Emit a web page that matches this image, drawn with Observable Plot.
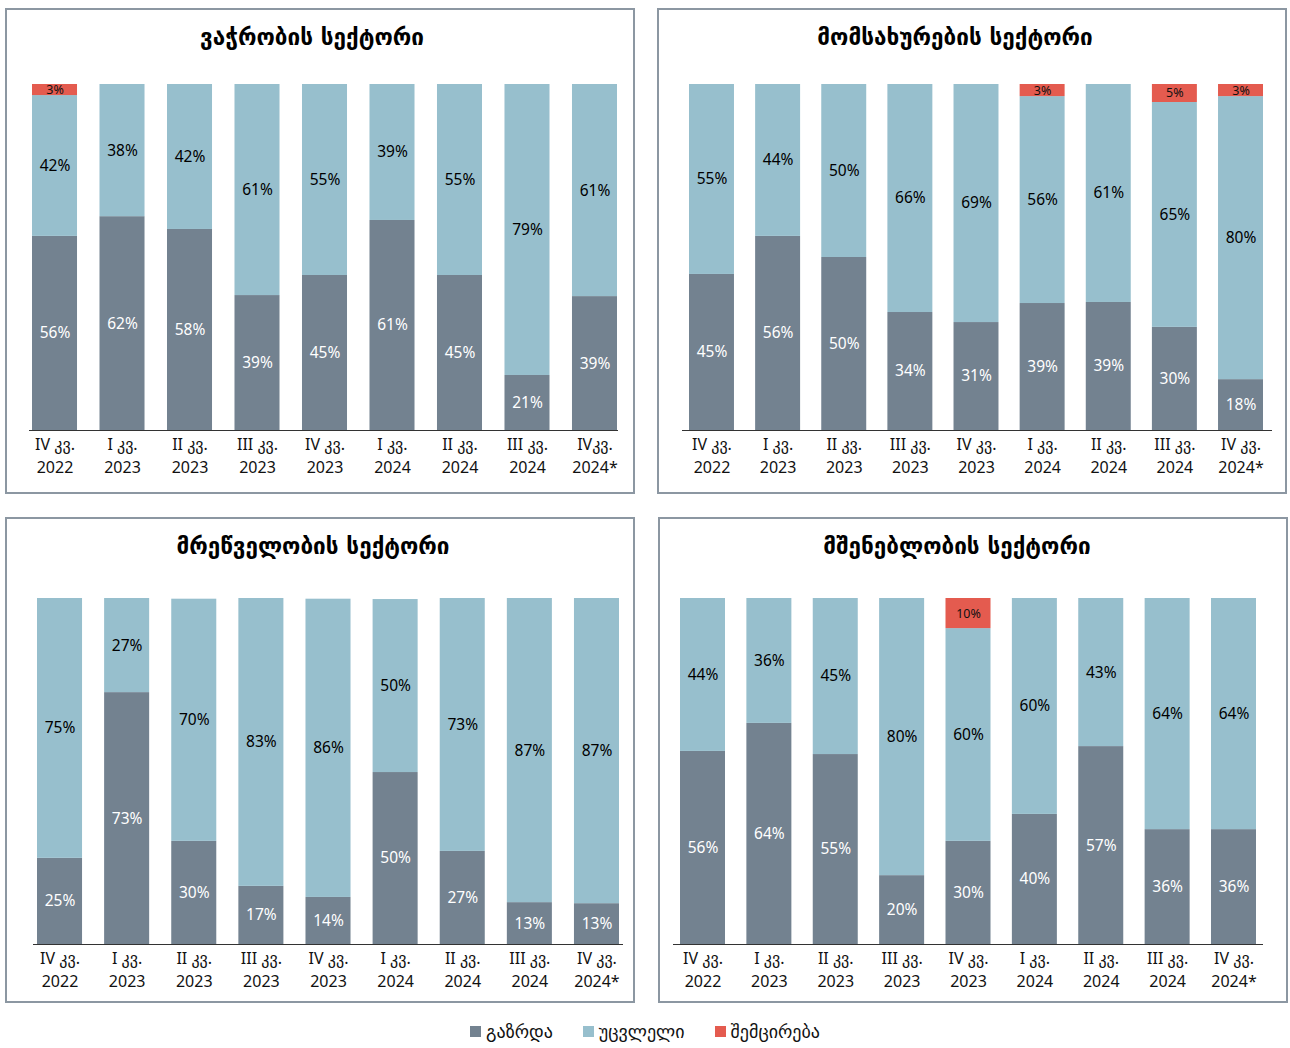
<!DOCTYPE html>
<html>
<head>
<meta charset="utf-8">
<script src="https://cdn.jsdelivr.net/npm/d3@7"></script>
<script src="https://cdn.jsdelivr.net/npm/@observablehq/plot@0.6"></script>
<style>
  html, body { margin: 0; padding: 0; background: #fff; }
  #root { position: relative; width: 1290px; height: 1048px; font-family: "Noto Sans", "DejaVu Sans", sans-serif; }
  .panel { position: absolute; box-sizing: border-box; border: 2px solid #8c97a2; background: #fff; }
  .title { position: absolute; text-align: center; font-family: "DejaVu Sans", sans-serif; font-weight: bold; font-size: 22.5px; color: #000; }
  .chart { position: absolute; }
  .legend { position: absolute; left: 0; width: 1290px; top: 1021px; display: flex; justify-content: center; gap: 30px; font-family: "DejaVu Sans", sans-serif; font-size: 18px; color: #111; }
  .legend .item { display: flex; align-items: center; gap: 5px; }
  .legend .sw { width: 11px; height: 11px; display: inline-block; }
</style>
</head>
<body>
<div id="root"></div>
<script>
// ---------- Data ----------
const categories = ["გაზრდა", "უცვლელი", "შემცირება"];
const categoryColors = ["#738290", "#97bfcd", "#e45b4f"];

const quarterLabels = ["IV კვ.\n2022", "I კვ.\n2023", "II კვ.\n2023", "III კვ.\n2023", "IV კვ.\n2023", "I კვ.\n2024", "II კვ.\n2024", "III კვ.\n2024", "IV კვ.\n2024*"];
const tradeQuarterLabels = ["IV კვ.\n2022", "I კვ.\n2023", "II კვ.\n2023", "III კვ.\n2023", "IV კვ.\n2023", "I კვ.\n2024", "II კვ.\n2024", "III კვ.\n2024", "IVკვ.\n2024*"];

const sectorTitles = ["ვაჭრობის სექტორი", "მომსახურების სექტორი", "მრეწველობის სექტორი", "მშენებლობის სექტორი"];

// Trade (bar heights, labels as printed)
const tradeIncrease = [56.1, 61.8, 58.1, 39.0, 44.8, 60.7, 44.8, 15.9, 38.7];
const tradeUnchanged = [40.7, 38.2, 41.9, 61.0, 55.2, 39.3, 55.2, 84.1, 61.3];
const tradeDecrease = [3.2, 0, 0, 0, 0, 0, 0, 0, 0];
const tradeIncreaseLabels = [56, 62, 58, 39, 45, 61, 45, 21, 39];
const tradeUnchangedLabels = [42, 38, 42, 61, 55, 39, 55, 79, 61];
const tradeDecreaseLabels = [3, null, null, null, null, null, null, null, null];

// Services
const servicesIncrease = [45.1, 56.1, 50.0, 34.1, 31.2, 36.7, 37.0, 29.8, 14.7];
const servicesUnchanged = [54.9, 43.9, 50.0, 65.9, 68.8, 59.8, 63.0, 65.0, 81.8];
const servicesDecrease = [0, 0, 0, 0, 0, 3.5, 0, 5.2, 3.5];
const servicesIncreaseLabels = [45, 56, 50, 34, 31, 39, 39, 30, 18];
const servicesUnchangedLabels = [55, 44, 50, 66, 69, 56, 61, 65, 80];
const servicesDecreaseLabels = [null, null, null, null, null, 3, null, 5, 3];

// Industry
const industryIncrease = [24.9, 72.8, 29.8, 16.8, 13.6, 49.7, 26.9, 12.1, 11.8];
const industryUnchanged = [75.1, 27.2, 70.0, 83.2, 86.2, 50.0, 73.1, 87.9, 88.2];
const industryDecrease = [0, 0, 0, 0, 0, 0, 0, 0, 0];
const industryIncreaseLabels = [25, 73, 30, 17, 14, 50, 27, 13, 13];
const industryUnchangedLabels = [75, 27, 70, 83, 86, 50, 73, 87, 87];
const industryDecreaseLabels = [null, null, null, null, null, null, null, null, null];

// Construction
const constructionIncrease = [55.8, 63.9, 54.9, 19.9, 29.8, 37.6, 57.2, 33.2, 33.2];
const constructionUnchanged = [44.2, 36.1, 45.1, 80.1, 61.5, 62.4, 42.8, 66.8, 66.8];
const constructionDecrease = [0, 0, 0, 0, 8.7, 0, 0, 0, 0];
const constructionIncreaseLabels = [56, 64, 55, 20, 30, 40, 57, 36, 36];
const constructionUnchangedLabels = [44, 36, 45, 80, 60, 60, 43, 64, 64];
const constructionDecreaseLabels = [null, null, null, null, 10, null, null, null, null];

// ---------- Layout (positions only) ----------
const panels = [
  {left: 5, top: 8, svgTop: 68, mt: 16, mb: 64, ml: 24, mr: 17, range: [27, 612], p: 0.333, titleShift: -8, q: tradeQuarterLabels,
   inc: tradeIncrease, unc: tradeUnchanged, dec: tradeDecrease, incL: tradeIncreaseLabels, uncL: tradeUnchangedLabels, decL: tradeDecreaseLabels},
  {left: 657, top: 8, svgTop: 68, mt: 16, mb: 64, ml: 25, mr: 15, range: [32, 606], p: 0.32, titleShift: -17, q: quarterLabels,
   inc: servicesIncrease, unc: servicesUnchanged, dec: servicesDecrease, incL: servicesIncreaseLabels, uncL: servicesUnchangedLabels, decL: servicesDecreaseLabels},
  {left: 5, top: 517, svgTop: 577, mt: 21, mb: 59, ml: 28, mr: 12, range: [32, 614], p: 0.329, titleShift: -7, q: quarterLabels,
   inc: industryIncrease, unc: industryUnchanged, dec: industryDecrease, incL: industryIncreaseLabels, uncL: industryUnchangedLabels, decL: industryDecreaseLabels},
  {left: 658, top: 517, svgTop: 577, mt: 21, mb: 59, ml: 15, mr: 25, range: [22, 598], p: 0.322, titleShift: -16, q: quarterLabels,
   inc: constructionIncrease, unc: constructionUnchanged, dec: constructionDecrease, incL: constructionIncreaseLabels, uncL: constructionUnchangedLabels, decL: constructionDecreaseLabels}
];

const root = document.getElementById("root");

panels.forEach((P, idx) => {
  const box = document.createElement("div");
  box.className = "panel";
  box.style.left = P.left + "px";
  box.style.top = P.top + "px";
  box.style.width = "630px";
  box.style.height = "486px";
  root.appendChild(box);

  const t = document.createElement("div");
  t.className = "title";
  t.style.left = (P.left + P.titleShift) + "px";
  t.style.width = "630px";
  t.style.top = (P.top + 16) + "px";
  t.textContent = sectorTitles[idx];
  root.appendChild(t);

  const rows = [];
  P.q.forEach((q, i) => {
    rows.push({q, cat: categories[0], value: P.inc[i], label: P.incL[i]});
    rows.push({q, cat: categories[1], value: P.unc[i], label: P.uncL[i]});
    rows.push({q, cat: categories[2], value: P.dec[i], label: P.decL[i]});
  });
  const fmt = v => v == null ? null : v + "%";

  const chart = Plot.plot({
    width: 630,
    height: 426,
    marginTop: P.mt,
    marginBottom: P.mb,
    marginLeft: P.ml,
    marginRight: P.mr,
    style: {fontFamily: "'Noto Sans', 'DejaVu Sans', sans-serif", background: "transparent"},
    x: {domain: P.q, range: P.range, paddingInner: P.p, paddingOuter: 0, round: false, axis: null},
    y: {domain: [0, 100], axis: null},
    color: {domain: categories, range: categoryColors},
    marks: [
      Plot.barY(rows, {x: "q", y: "value", fill: "cat", z: "cat", order: categories}),
      Plot.text(rows, Plot.stackY({x: "q", y: "value", z: "cat", order: categories,
        text: d => d.cat === categories[0] ? fmt(d.label) : null, fill: "white", fontSize: 15.5})),
      Plot.text(rows, Plot.stackY({x: "q", y: "value", z: "cat", order: categories,
        text: d => d.cat === categories[1] ? fmt(d.label) : null, fill: "#000", fontSize: 15.5})),
      Plot.text(rows, Plot.stackY({x: "q", y: "value", z: "cat", order: categories,
        text: d => d.cat === categories[2] ? fmt(d.label) : null, fill: "#111", fontSize: 12.5})),
      Plot.ruleY([0], {stroke: "#333", strokeWidth: 1}),
      Plot.text(P.q, {x: d => d, text: d => d, frameAnchor: "bottom", lineAnchor: "top", dy: 4,
        lineHeight: 1.4, fontSize: 16, fill: "#111"})
    ]
  });
  chart.classList.add("chart");
  chart.style.left = P.left + "px";
  chart.style.top = P.svgTop + "px";
  root.appendChild(chart);
});

// Legend
const legend = document.createElement("div");
legend.className = "legend";
categories.forEach((c, i) => {
  const it = document.createElement("span");
  it.className = "item";
  const sw = document.createElement("span");
  sw.className = "sw";
  sw.style.background = categoryColors[i];
  const lab = document.createElement("span");
  lab.textContent = c;
  it.appendChild(sw);
  it.appendChild(lab);
  legend.appendChild(it);
});
root.appendChild(legend);
</script>
</body>
</html>
